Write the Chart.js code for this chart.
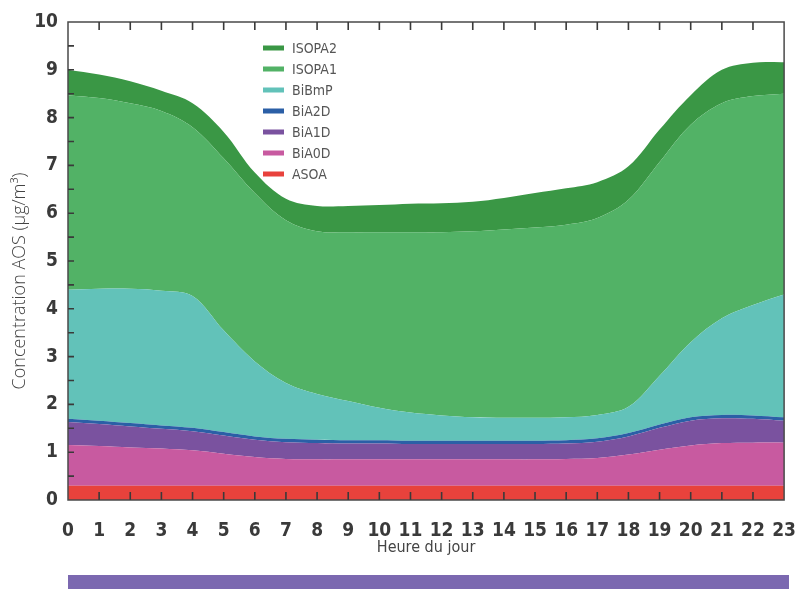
<!DOCTYPE html>
<html lang="fr">
<head>
    <meta charset="UTF-8">
    <title>Concentration AOS</title>
    <style>
        * {
            margin: 0;
            padding: 0;
            box-sizing: border-box;
        }

        body {
            background: #fff;
            width: 808px;
            height: 589px;
            overflow: hidden;
        }

        .wrap {
            position: relative;
            width: 808px;
            height: 589px;
        }

        /* bandeau violet sous le graphique */
        .band {
            position: absolute;
            left: 68px;
            top: 575px;
            width: 721px;
            height: 14px;
            background: #7b68b0;
        }
    </style>
</head>
<body>
    <div class="wrap">
        <canvas id="chart" width="808" height="589"></canvas>
        <div class="band"></div>
    </div>

    <script src="https://cdn.jsdelivr.net/npm/chart.js"></script>
    <script>
        // Heures du jour
        const hours = [0, 1, 2, 3, 4, 5, 6, 7, 8, 9, 10, 11, 12, 13, 14, 15, 16, 17, 18, 19, 20, 21, 22, 23];

        // Concentrations par espèce (µg/m³), empilées de bas en haut
        const asoa   = [0.30, 0.30, 0.30, 0.30, 0.30, 0.30, 0.30, 0.30, 0.30, 0.30, 0.30, 0.30, 0.30, 0.30, 0.30, 0.30, 0.30, 0.30, 0.30, 0.30, 0.30, 0.30, 0.30, 0.30];
        const bia0d  = [0.85, 0.83, 0.80, 0.78, 0.74, 0.67, 0.60, 0.56, 0.55, 0.55, 0.55, 0.55, 0.55, 0.55, 0.55, 0.55, 0.56, 0.58, 0.65, 0.75, 0.84, 0.89, 0.90, 0.90];
        const bia1d  = [0.48, 0.46, 0.44, 0.41, 0.40, 0.38, 0.36, 0.35, 0.34, 0.33, 0.33, 0.32, 0.32, 0.32, 0.32, 0.32, 0.32, 0.34, 0.38, 0.46, 0.52, 0.52, 0.50, 0.46];
        const bia2d  = [0.07, 0.07, 0.07, 0.07, 0.07, 0.07, 0.07, 0.07, 0.07, 0.07, 0.07, 0.07, 0.07, 0.07, 0.07, 0.07, 0.07, 0.07, 0.07, 0.07, 0.07, 0.07, 0.07, 0.07];
        const bibmp  = [2.70, 2.76, 2.81, 2.82, 2.76, 2.13, 1.57, 1.17, 0.96, 0.82, 0.68, 0.59, 0.53, 0.49, 0.48, 0.48, 0.48, 0.49, 0.55, 1.02, 1.57, 2.02, 2.31, 2.57];
        const isopa1 = [4.07, 3.99, 3.88, 3.76, 3.53, 3.60, 3.52, 3.40, 3.40, 3.53, 3.67, 3.77, 3.83, 3.89, 3.94, 3.98, 4.03, 4.12, 4.33, 4.47, 4.55, 4.50, 4.37, 4.20];
        const isopa2 = [0.53, 0.49, 0.46, 0.42, 0.50, 0.55, 0.43, 0.45, 0.53, 0.55, 0.57, 0.60, 0.61, 0.62, 0.66, 0.72, 0.76, 0.75, 0.70, 0.68, 0.62, 0.70, 0.70, 0.66];

        const yTicks = [0, 1, 2, 3, 4, 5, 6, 7, 8, 9, 10];

        const series = [
            { label: 'ASOA',   data: asoa,   color: '#e8423c' },
            { label: 'BiA0D',  data: bia0d,  color: '#c85aa0' },
            { label: 'BiA1D',  data: bia1d,  color: '#7a529f' },
            { label: 'BiA2D',  data: bia2d,  color: '#2b5fa6' },
            { label: 'BiBmP',  data: bibmp,  color: '#62c2b9' },
            { label: 'ISOPA1', data: isopa1, color: '#52b266' },
            { label: 'ISOPA2', data: isopa2, color: '#3a9745' }
        ];

        const narrow = "'DejaVu Sans Condensed', 'Liberation Sans Narrow', sans-serif";

        // Cadre, graduations intérieures, titre Y et légende
        const decor = {
            id: 'decor',
            afterDatasetsDraw(chart) {
                const { ctx, chartArea: a, scales: { x, y } } = chart;
                ctx.save();
                ctx.strokeStyle = '#4a4a4a';
                ctx.lineWidth = 1.5;
                ctx.strokeRect(a.left, a.top, a.right - a.left, a.bottom - a.top);

                ctx.lineWidth = 1.6;
                ctx.strokeStyle = '#3a3a3a';
                ctx.beginPath();
                for (let h = 1; h < hours.length - 1; h++) {
                    const px = x.getPixelForValue(h);
                    ctx.moveTo(px, a.bottom);
                    ctx.lineTo(px, a.bottom - 8);
                    ctx.moveTo(px, a.top);
                    ctx.lineTo(px, a.top + 8);
                }
                for (let v = 0.5; v < 10; v += 0.5) {
                    const py = y.getPixelForValue(v);
                    ctx.moveTo(a.left, py);
                    ctx.lineTo(a.left + 6, py);
                }
                ctx.stroke();
                ctx.restore();
            },
            afterDraw(chart) {
                const { ctx } = chart;
                ctx.save();

                // titre de l'axe Y
                ctx.translate(20, 281);
                ctx.rotate(-Math.PI / 2);
                ctx.fillStyle = '#444';
                ctx.font = "300 18px 'Open Sans', sans-serif";
                ctx.textAlign = 'center';
                ctx.textBaseline = 'middle';
                ctx.fillText('Concentration AOS (µg/m³)', 0, 0);
                ctx.restore();

                // légende
                ctx.save();
                ctx.font = "14px " + narrow;
                ctx.textBaseline = 'middle';
                const items = chart.data.datasets.slice().reverse();
                items.forEach((ds, i) => {
                    const ry = 48 + i * 21;
                    ctx.fillStyle = ds.backgroundColor;
                    ctx.fillRect(263, ry - 2.5, 21, 5);
                    ctx.fillStyle = '#555';
                    ctx.fillText(ds.label, 292, ry + 1);
                });
                ctx.restore();
            }
        };

        new Chart(document.getElementById('chart'), {
            type: 'line',
            data: {
                labels: hours,
                datasets: series.map((s, i) => ({
                    label: s.label,
                    data: s.data,
                    backgroundColor: s.color,
                    borderColor: s.color,
                    borderWidth: 0,
                    pointRadius: 0,
                    tension: 0.35,
                    fill: i === 0 ? 'origin' : '-1'
                }))
            },
            options: {
                responsive: false,
                animation: false,
                layout: {
                    padding: { top: 22, right: 19, left: 0, bottom: 0 }
                },
                plugins: {
                    legend: { display: false },
                    tooltip: { enabled: false }
                },
                scales: {
                    x: {
                        offset: false,
                        grid: { display: false },
                        border: { display: false },
                        ticks: {
                            autoSkip: false,
                            maxRotation: 0,
                            padding: 12,
                            color: '#3a3a3a',
                            font: { family: narrow, size: 19, weight: 'bold' }
                        },
                        title: {
                            display: true,
                            text: 'Heure du jour',
                            color: '#444',
                            font: { family: narrow, size: 16 },
                            padding: { top: 0, bottom: 32 }
                        },
                        afterFit: scale => { scale.height = 89; }
                    },
                    y: {
                        stacked: true,
                        min: 0,
                        max: 10,
                        grid: { display: false },
                        border: { display: false },
                        afterBuildTicks: scale => {
                            scale.ticks = yTicks.map(v => ({ value: v }));
                        },
                        ticks: {
                            padding: 2,
                            color: '#3a3a3a',
                            font: { family: narrow, size: 19, weight: 'bold' }
                        },
                        afterFit: scale => { scale.width = 68; }
                    }
                }
            },
            plugins: [decor]
        });
    </script>
</body>
</html>
